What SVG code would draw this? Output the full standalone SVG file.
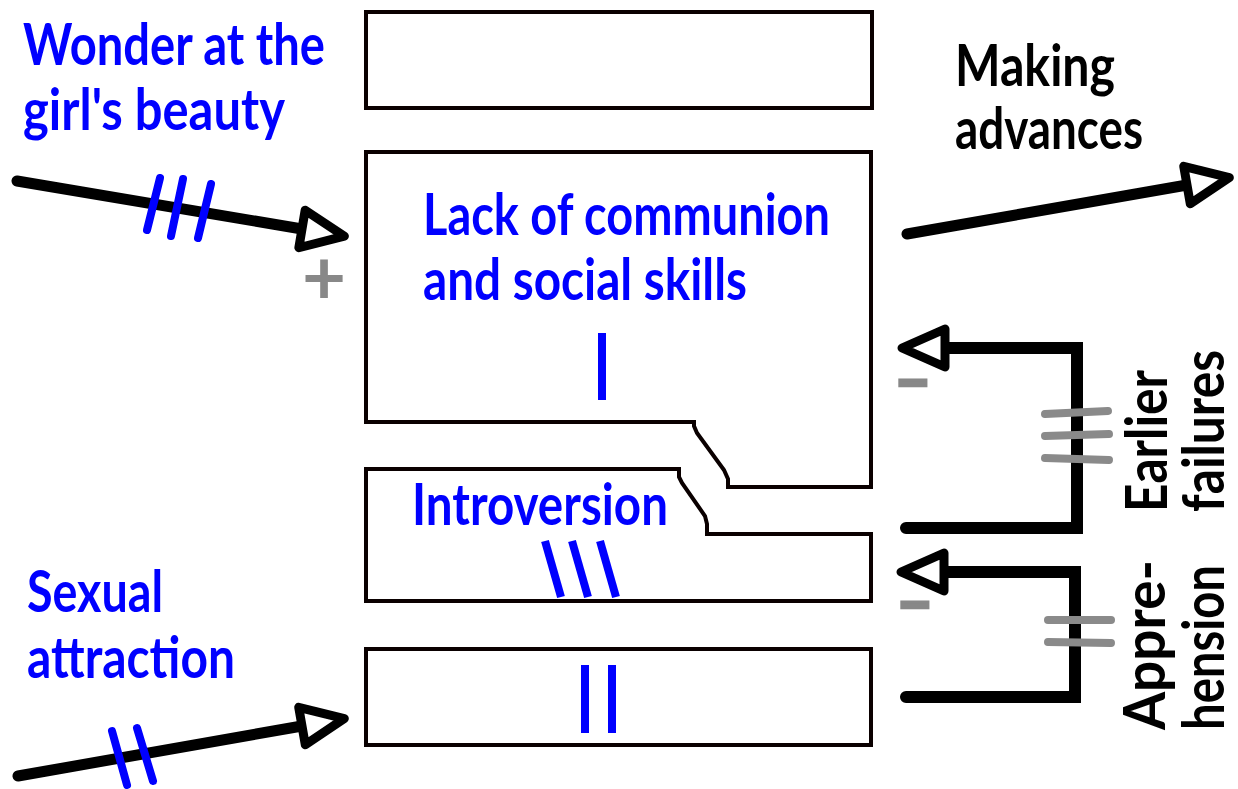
<svg xmlns="http://www.w3.org/2000/svg" width="1238" height="789" viewBox="0 0 1238 789">
<style>
.box{fill:#fff;stroke:#0a0000;stroke-width:4;stroke-linejoin:miter}
.lbl{font-family:Lato,"Open Sans","Liberation Sans",sans-serif;font-weight:700;font-size:58px}
.blue{fill:#0000ff}
.blk{fill:#000}
.sign{font-family:Lato,"Open Sans","Liberation Sans",sans-serif;font-weight:700;fill:#888}
.minus{font-family:"Liberation Sans",Arial,sans-serif;font-weight:700;fill:#888;stroke:#888;stroke-width:3;font-size:52px}
.arr{fill:none;stroke:#000;stroke-width:11;stroke-linecap:round}
.loop{fill:none;stroke:#000;stroke-width:12;stroke-linecap:round;stroke-linejoin:miter}
.hb{stroke:#0000ff;stroke-width:8;stroke-linecap:round}
.hbar{stroke:#0000ff;stroke-width:8;stroke-linecap:butt}
.hg{stroke:#8a8a8a;stroke-width:8;stroke-linecap:round}
</style>
<defs>
<marker id="head" markerUnits="userSpaceOnUse" viewBox="-10 -30 60 60" refX="0" refY="0" markerWidth="60" markerHeight="60" orient="auto" overflow="visible">
<path d="M0,-19 L43,0 L0,19 Z" fill="#fff" stroke="#000" stroke-width="9" stroke-linejoin="round"/>
</marker>
</defs>

<g id="node-top">
<rect class="box" x="366" y="12" width="506" height="96"/>
</g>

<g id="node-lack">
<path class="box" d="M366,152 H871 V487 H728 V479 L724,470 L697,433 L694,426 V422 H366 Z"/>
<text class="lbl blue" x="423" y="235" textLength="407" lengthAdjust="spacingAndGlyphs">Lack of communion</text>
<text class="lbl blue" x="423" y="300" textLength="324" lengthAdjust="spacingAndGlyphs">and social skills</text>
<line class="hbar" x1="602" y1="333" x2="602" y2="400"/>
</g>

<g id="node-introversion">
<path class="box" d="M366,469 H679 V477 L682,483 L705,516 L707,524 V534 H871 V601 H366 Z"/>
<text class="lbl blue" x="412" y="525" textLength="256" lengthAdjust="spacingAndGlyphs">Introversion</text>
<line class="hbar" x1="545" y1="541" x2="561" y2="597"/>
<line class="hbar" x1="572" y1="541" x2="588" y2="597"/>
<line class="hbar" x1="600" y1="541" x2="616" y2="597"/>
</g>

<g id="node-bottom">
<rect class="box" x="366" y="649" width="505" height="96"/>
<line class="hbar" x1="585" y1="665" x2="585" y2="733"/>
<line class="hbar" x1="612" y1="665" x2="612" y2="733"/>
</g>

<g id="label-wonder">
<text class="lbl blue" x="23" y="65" textLength="302" lengthAdjust="spacingAndGlyphs">Wonder at the</text>
<text class="lbl blue" x="23" y="130" textLength="262" lengthAdjust="spacingAndGlyphs">girl's beauty</text>
</g>

<g id="label-sexual">
<text class="lbl blue" x="27" y="612" textLength="136" lengthAdjust="spacingAndGlyphs">Sexual</text>
<text class="lbl blue" x="27" y="678" textLength="208" lengthAdjust="spacingAndGlyphs">attraction</text>
</g>

<g id="label-making">
<text class="lbl blk" x="955" y="86" textLength="160" lengthAdjust="spacingAndGlyphs">Making</text>
<text class="lbl blk" x="955" y="149" textLength="188" lengthAdjust="spacingAndGlyphs">advances</text>
</g>

<g id="label-earlier">
<text class="lbl blk" transform="translate(1167,512) rotate(-90)" textLength="142" lengthAdjust="spacingAndGlyphs">Earlier</text>
<text class="lbl blk" transform="translate(1224,512) rotate(-90)" textLength="162" lengthAdjust="spacingAndGlyphs">failures</text>
</g>

<g id="label-apprehension">
<text class="lbl blk" transform="translate(1165,730) rotate(-90)" textLength="170" lengthAdjust="spacingAndGlyphs">Appre-</text>
<text class="lbl blk" transform="translate(1224,730) rotate(-90)" textLength="165" lengthAdjust="spacingAndGlyphs">hension</text>
</g>

<g id="connectors">
<line class="arr" x1="17" y1="181" x2="302" y2="229" marker-end="url(#head)"/>
<line class="hb" x1="160" y1="178" x2="147" y2="230"/>
<line class="hb" x1="183" y1="179" x2="171" y2="236"/>
<line class="hb" x1="211" y1="184" x2="198" y2="238"/>
<text class="sign" x="324" y="304" font-size="76" text-anchor="middle">+</text>

<line class="arr" x1="18" y1="776" x2="302" y2="726" marker-end="url(#head)"/>
<line class="hb" x1="112" y1="731" x2="127" y2="785"/>
<line class="hb" x1="137" y1="728" x2="153" y2="781"/>

<line class="arr" x1="907" y1="234" x2="1187" y2="185" marker-end="url(#head)"/>

<path class="loop" d="M906,528 H1077 V348 H945" marker-end="url(#head)"/>
<line class="hg" x1="1045" y1="414" x2="1108" y2="411"/>
<line class="hg" x1="1045" y1="436" x2="1109" y2="434"/>
<line class="hg" x1="1045" y1="458" x2="1109" y2="460"/>
<text class="minus" x="913" y="400" text-anchor="middle">−</text>

<path class="loop" d="M906,697 H1075 V572 H944" marker-end="url(#head)"/>
<line class="hg" x1="1048" y1="620" x2="1111" y2="620"/>
<line class="hg" x1="1048" y1="642" x2="1111" y2="643"/>
<text class="minus" x="915" y="622" text-anchor="middle">−</text>
</g>
</svg>
